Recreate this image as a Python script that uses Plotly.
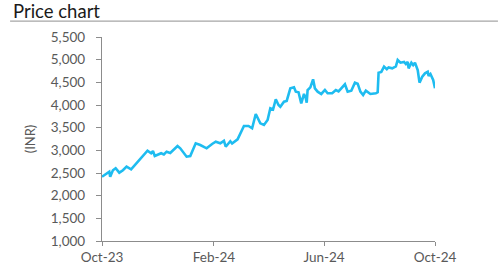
import plotly.graph_objects as go

dates = [
    "2023-10-01", "2023-10-05", "2023-10-09", "2023-10-10", "2023-10-13", "2023-10-16",
    "2023-10-20", "2023-10-24", "2023-10-28", "2023-11-02", "2023-11-08", "2023-11-15",
    "2023-11-20", "2023-11-24", "2023-11-26", "2023-11-28", "2023-12-05", "2023-12-08",
    "2023-12-11", "2023-12-15", "2023-12-18", "2023-12-23", "2023-12-26", "2024-01-02",
    "2024-01-06", "2024-01-12", "2024-01-17", "2024-01-24", "2024-01-30", "2024-02-03",
    "2024-02-08", "2024-02-12", "2024-02-14", "2024-02-19", "2024-02-21", "2024-02-27",
    "2024-03-05", "2024-03-10", "2024-03-14", "2024-03-18", "2024-03-23", "2024-03-27",
    "2024-03-31", "2024-04-03", "2024-04-06", "2024-04-09", "2024-04-12", "2024-04-14",
    "2024-04-18", "2024-04-21", "2024-04-25", "2024-04-29", "2024-05-01", "2024-05-04",
    "2024-05-07", "2024-05-10", "2024-05-12", "2024-05-13", "2024-05-14", "2024-05-17",
    "2024-05-20", "2024-05-22", "2024-05-25", "2024-05-29", "2024-06-02", "2024-06-05",
    "2024-06-10", "2024-06-14", "2024-06-17", "2024-06-24", "2024-06-27", "2024-07-01",
    "2024-07-05", "2024-07-08", "2024-07-11", "2024-07-14", "2024-07-17", "2024-07-22",
    "2024-07-28", "2024-07-30", "2024-07-31", "2024-08-03", "2024-08-06", "2024-08-09",
    "2024-08-11", "2024-08-15", "2024-08-19", "2024-08-21", "2024-08-24", "2024-08-28",
    "2024-08-30", "2024-09-01", "2024-09-02", "2024-09-05", "2024-09-07", "2024-09-09",
    "2024-09-12", "2024-09-14", "2024-09-17", "2024-09-20", "2024-09-23", "2024-09-24",
    "2024-09-26", "2024-09-28", "2024-09-29", "2024-10-01",
]
prices = [
    2418, 2470, 2529, 2418, 2560, 2604,
    2507, 2560, 2640, 2581, 2720, 2897,
    2992, 2935, 2985, 2875, 2935, 2910,
    2970, 2940, 3007, 3096, 3045, 2860,
    2875, 3155, 3118, 3045, 3140, 3190,
    3155, 3210, 3080, 3200, 3150, 3243,
    3537, 3537, 3486, 3801, 3596, 3559,
    3670, 3927, 3900, 4126, 4000, 3962,
    4073, 4090, 4368, 4390, 4294, 4280,
    4037, 4243, 4148, 4050, 4331, 4390,
    4567, 4368, 4294, 4243, 4331, 4258,
    4258, 4331, 4300, 4457, 4294, 4316,
    4493, 4470, 4294, 4220, 4316, 4243,
    4258, 4280, 4713, 4730, 4846, 4790,
    4830, 4809, 4850, 4993, 4934, 4950,
    4904, 4950, 4809, 4934, 4880, 4934,
    4772, 4493, 4625, 4699, 4735, 4640,
    4684, 4589, 4552, 4368,
]
tick_dates = ["2023-10-01", "2024-02-01", "2024-06-01", "2024-10-01"]
tick_labels = ["Oct-23", "Feb-24", "Jun-24", "Oct-24"]
y_ticks = list(range(1000, 5501, 500))
y_labels = [f"{v:,}" for v in y_ticks]

FONT = "Lato"
GRAY = "#595959"
AXIS = "#8c8c8c"

fig = go.Figure()
fig.add_trace(go.Scatter(
    x=dates, y=prices, mode="lines",
    line=dict(color="#1EBCF0", width=2.6),
    showlegend=False, hoverinfo="skip",
))

fig.update_layout(
    width=500, height=280,
    margin=dict(l=102, r=65, t=37, b=39),
    paper_bgcolor="white", plot_bgcolor="white",
    font=dict(family=FONT, size=13, color=GRAY),
    xaxis=dict(
        type="date",
        range=["2023-10-01", "2024-10-01"],
        tickvals=tick_dates, ticktext=tick_labels,
        showgrid=False, zeroline=False,
        showline=True, linecolor=AXIS, linewidth=1.3,
        ticks="outside", ticklen=4, tickcolor=AXIS, tickwidth=1.3,
        tickfont=dict(family=FONT, size=13.5, color=GRAY),
    ),
    yaxis=dict(
        range=[1000, 5500],
        tickvals=y_ticks, ticktext=y_labels,
        showgrid=False, zeroline=False,
        showline=True, linecolor=AXIS, linewidth=1.3,
        ticks="outside", ticklen=5, tickcolor=AXIS, tickwidth=1.3,
        ticklabelstandoff=8,
        tickfont=dict(family=FONT, size=13.5, color=GRAY),
        title=dict(text="(INR)", font=dict(family=FONT, size=13, color=GRAY), standoff=12),
    ),
    shapes=[dict(
        type="line", xref="paper", yref="paper",
        x0=-0.276, x1=1.189, y0=1.078, y1=1.078,
        line=dict(color="#a6a6a6", width=1.3),
    )],
    annotations=[dict(
        text="Price chart", xref="paper", yref="paper",
        x=-0.273, y=1.127, xanchor="left", yanchor="middle", showarrow=False,
        font=dict(family=FONT, size=18.5, color="#1a1a1a"),
    )],
)

fig.write_html("out.html")
